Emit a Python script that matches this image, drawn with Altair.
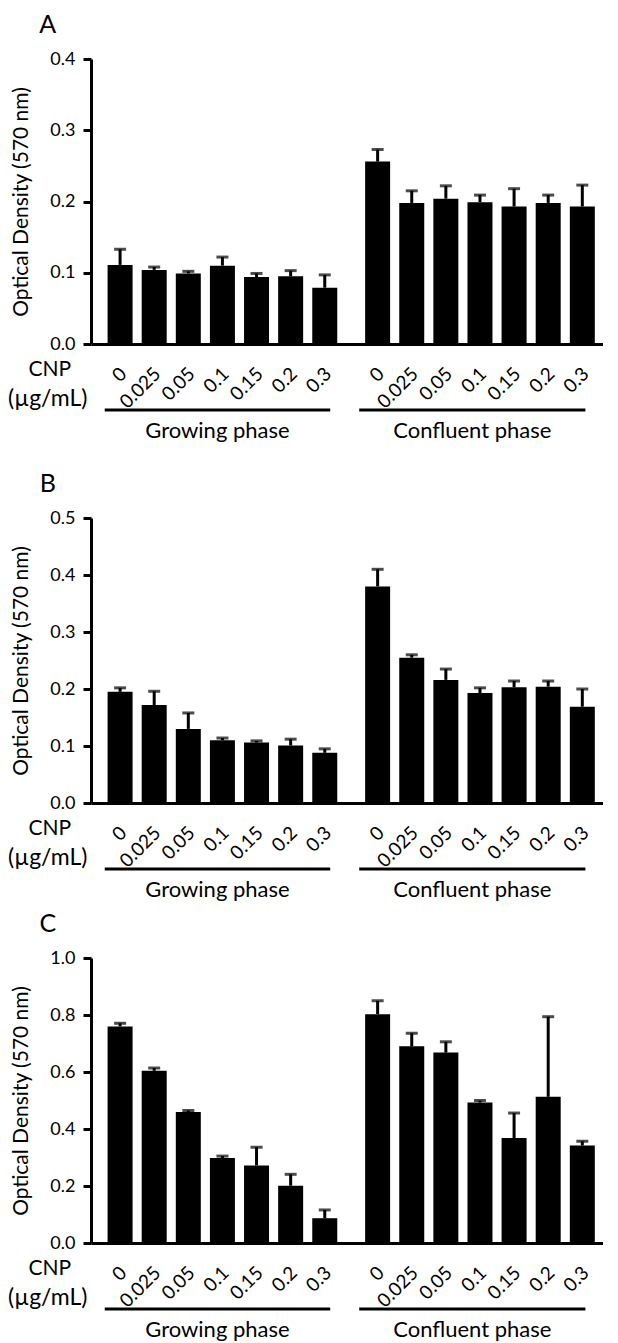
import altair as alt
import pandas as pd

# ---------------- data ----------------
doses = ["0", "0.025", "0.05", "0.1", "0.15", "0.2", "0.3"]
phases = ["Growing phase", "Confluent phase"]

a_grow = [0.111, 0.104, 0.099, 0.110, 0.094, 0.095, 0.079]
a_grow_err = [0.133, 0.108, 0.102, 0.122, 0.099, 0.103, 0.097]
a_conf = [0.256, 0.198, 0.204, 0.199, 0.193, 0.198, 0.193]
a_conf_err = [0.273, 0.215, 0.222, 0.209, 0.218, 0.209, 0.223]

b_grow = [0.195, 0.172, 0.130, 0.110, 0.106, 0.101, 0.088]
b_grow_err = [0.202, 0.196, 0.158, 0.114, 0.109, 0.112, 0.095]
b_conf = [0.380, 0.255, 0.216, 0.193, 0.203, 0.204, 0.169]
b_conf_err = [0.410, 0.260, 0.235, 0.202, 0.214, 0.214, 0.200]

c_grow = [0.760, 0.604, 0.460, 0.298, 0.272, 0.201, 0.087]
c_grow_err = [0.771, 0.614, 0.465, 0.305, 0.336, 0.241, 0.116]
c_conf = [0.803, 0.690, 0.668, 0.493, 0.368, 0.513, 0.342]
c_conf_err = [0.850, 0.736, 0.706, 0.500, 0.456, 0.794, 0.357]

a_ticks = [0.0, 0.1, 0.2, 0.3, 0.4]
b_ticks = [0.0, 0.1, 0.2, 0.3, 0.4, 0.5]
c_ticks = [0.0, 0.2, 0.4, 0.6, 0.8, 1.0]

# ---------------- layout ----------------
FONT = "Lato"
W, H = 512, 285
XMIN, XMAX = -0.706, 14.01
GAP = 7.55                      # position of first confluent bar
UX = (XMAX - XMIN) / W          # data units per pixel (x)
line_x = [(-0.45, 6.16), (7.01, 13.64)]


def panel(letter, ymax, ticks, grow, grow_err, conf, conf_err):
    uy = ymax / H
    pos = list(range(7)) + [GAP + i for i in range(7)]
    df = pd.DataFrame({
        "pos": pos,
        "value": grow + conf,
        "err": grow_err + conf_err,
        "dose": doses + doses,
    })
    df["lx"] = df["pos"] + 3.5 * UX
    df["ly"] = -27 * uy

    xscale = alt.Scale(domain=[XMIN, XMAX], nice=False, zero=False)
    yscale = alt.Scale(domain=[0, ymax], nice=False, zero=True)
    xaxis = alt.Axis(labels=False, ticks=False, grid=False, title=None,
                     domain=True, domainWidth=3, domainColor="black")
    yaxis = alt.Axis(values=ticks, format=".1f", title="Optical Density (570 nm)",
                     grid=False, domainWidth=3, domainColor="black",
                     tickWidth=3, tickColor="black", tickSize=8,
                     labelFont=FONT, labelFontSize=18, labelColor="black",
                     labelPadding=8, titleFont=FONT, titleFontSize=21,
                     titleFontWeight="normal", titleColor="black", titlePadding=18)

    def X(f):
        return alt.X(f, scale=xscale, axis=xaxis)

    def Y(f):
        return alt.Y(f, scale=yscale, axis=yaxis)

    base = alt.Chart(df)
    bars = base.mark_bar(size=25, color="black").encode(x=X("pos:Q"), y=Y("value:Q"))
    stems = base.mark_rule(color="black", strokeWidth=3).encode(
        x=X("pos:Q"), y=Y("value:Q"), y2="err:Q")
    caps = base.mark_tick(color="black", orient="horizontal", size=12, thickness=3).encode(
        x=X("pos:Q"), y=Y("err:Q"))
    labels = base.mark_text(font=FONT, fontSize=19, angle=315, align="right",
                            baseline="middle", color="black").encode(
        x=X("lx:Q"), y=Y("ly:Q"), text="dose:N")

    ldf = pd.DataFrame({
        "x1": [line_x[0][0], line_x[1][0]],
        "x2": [line_x[0][1], line_x[1][1]],
        "lx": [(line_x[0][0] + line_x[0][1]) / 2, (line_x[1][0] + line_x[1][1]) / 2],
        "ly": [-66 * uy, -66 * uy],
        "ty": [-87 * uy, -87 * uy],
        "phase": phases,
    })
    under = alt.Chart(ldf).mark_rule(color="black", strokeWidth=3).encode(
        x=X("x1:Q"), x2="x2:Q", y=Y("ly:Q"))
    ptext = alt.Chart(ldf).mark_text(font=FONT, fontSize=22, color="black",
                                     baseline="middle", align="center").encode(
        x=X("lx:Q"), y=Y("ty:Q"), text="phase:N")

    udf = pd.DataFrame({
        "lx": [-2.06, -2.12],
        "ly": [-26 * uy, -55 * uy],
        "t": ["CNP", "(\u00b5g/mL)"],
        "fs": [21, 23],
    })
    utext = alt.Chart(udf).mark_text(font=FONT, color="black",
                                     baseline="middle", align="center").encode(
        x=X("lx:Q"), y=Y("ly:Q"), text="t:N",
        size=alt.Size("fs:Q", scale=None, legend=None))

    tdf = pd.DataFrame({"lx": [-2.12], "ly": [ymax + 34 * uy], "t": [letter]})
    ttext = alt.Chart(tdf).mark_text(font=FONT, fontSize=25, color="black",
                                     baseline="middle", align="center").encode(
        x=X("lx:Q"), y=Y("ly:Q"), text="t:N")

    return alt.layer(bars, stems, caps, labels, under, ptext, utext, ttext).properties(
        width=W, height=H)


pA = panel("A", 0.4, a_ticks, a_grow, a_grow_err, a_conf, a_conf_err)
pB = panel("B", 0.5, b_ticks, b_grow, b_grow_err, b_conf, b_conf_err)
pC = panel("C", 1.0, c_ticks, c_grow, c_grow_err, c_conf, c_conf_err)

chart = alt.vconcat(pA, alt.vconcat(pB, pC, spacing=11), spacing=30).properties(
    padding={"top": 5, "left": 0, "right": 0, "bottom": 0}, background="white"
).configure_view(strokeOpacity=0)

chart.save("out.html", embed_options={"renderer": "svg", "actions": False})
